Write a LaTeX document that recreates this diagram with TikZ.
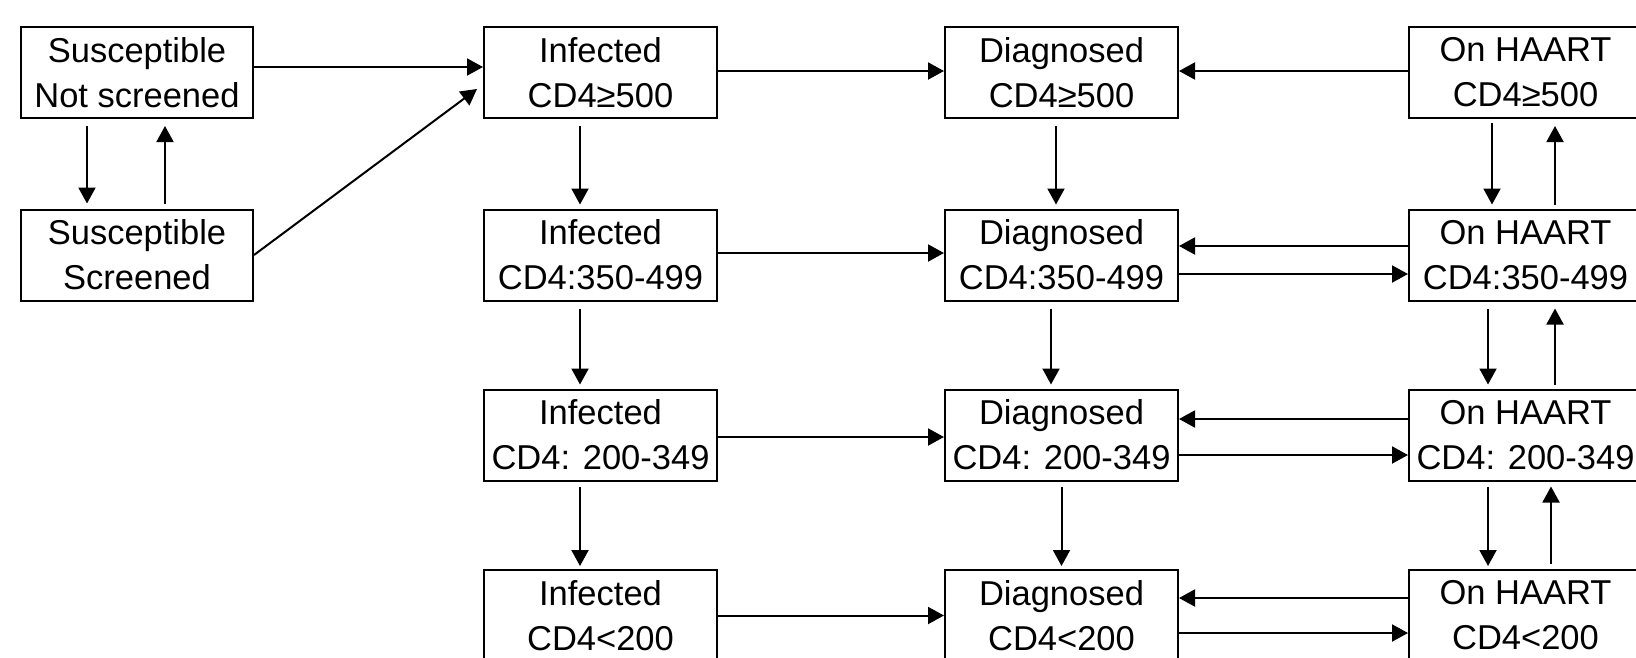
\documentclass[tikz,border=0pt]{standalone}
\usepackage{fontspec}
\setmainfont{Liberation Sans}
\usetikzlibrary{arrows.meta}
\begin{document}
\begin{tikzpicture}[x=1pt,y=-1pt,
  box/.style={draw, line width=2pt, minimum width=233pt, minimum height=91pt, inner sep=0pt, align=center, font=\fontsize{34.5}{45}\selectfont},
  arr/.style={line width=2pt, -{Triangle[length=16pt,width=17pt]}}]
\clip (0,0) rectangle (1636,657);
% column 1
\node[box, minimum width=232pt] (sns) at (137,72.5) {Susceptible\\Not screened};
\node[box, minimum width=232pt] (ss) at (137,255) {Susceptible\\Screened};
% column 2
\node[box] (i1) at (600.5,72.5) {Infected\\CD4≥500};
\node[box] (i2) at (600.5,255) {Infected\\CD4:350-499};
\node[box] (i3) at (600.5,435) {Infected\\CD4: 200-349};
\node[box] (i4) at (600.5,615.5) {Infected\\CD4<200};
% column 3
\node[box] (d1) at (1061.5,72.5) {Diagnosed\\CD4≥500};
\node[box] (d2) at (1061.5,255) {Diagnosed\\CD4:350-499};
\node[box] (d3) at (1061.5,435) {Diagnosed\\CD4: 200-349};
\node[box] (d4) at (1061.5,615.5) {Diagnosed\\CD4<200};
% column 4
\node[box] (h1) at (1525.5,72.5) {On HAART\\CD4≥500};
\node[box] (h2) at (1525.5,255) {On HAART\\CD4:350-499};
\node[box] (h3) at (1525.5,435) {On HAART\\CD4: 200-349};
\node[box] (h4) at (1525.5,615.5) {On HAART\\CD4<200};
% susceptible arrows
\draw[arr] ([yshift=5.5pt]sns.east) -- ([yshift=5.5pt]i1.west);
\draw[arr] (ss.east) -- ([xshift=-6pt,yshift=-16.5pt]i1.west);
\draw[arr] ([xshift=-50pt,yshift=-7pt]sns.south) -- ([xshift=-50pt,yshift=5pt]ss.north);
\draw[arr] ([xshift=28pt,yshift=5pt]ss.north) -- ([xshift=28pt,yshift=-7pt]sns.south);
% infected column
\draw[arr] ([xshift=-20.5pt,yshift=-7pt]i1.south) -- ([xshift=-20.5pt,yshift=4pt]i2.north);
\draw[arr] ([xshift=-20.5pt,yshift=-7pt]i2.south) -- ([xshift=-20.5pt,yshift=4pt]i3.north);
\draw[arr] ([xshift=-20.5pt,yshift=-5pt]i3.south) -- ([xshift=-20.5pt,yshift=3pt]i4.north);
\draw[arr] ([yshift=1.5pt]i1.east) -- ([yshift=1.5pt]d1.west);
\draw[arr] ([yshift=2pt]i2.east) -- ([yshift=2pt]d2.west);
\draw[arr] ([yshift=-2pt]i3.east) -- ([yshift=-2pt]d3.west);
\draw[arr] (i4.east) -- (d4.west);
% diagnosed column
\draw[arr] ([xshift=-5.5pt,yshift=-7pt]d1.south) -- ([xshift=-5.5pt,yshift=4pt]d2.north);
\draw[arr] ([xshift=-10.5pt,yshift=-7pt]d2.south) -- ([xshift=-10.5pt,yshift=4pt]d3.north);
\draw[arr] ([yshift=-5pt]d3.south) -- ([yshift=3pt]d4.north);
% HAART <-> diagnosed
\draw[arr] ([yshift=1.5pt]h1.west) -- ([yshift=1.5pt]d1.east);
\draw[arr] ([yshift=9pt]h2.west) -- ([yshift=9pt]d2.east);
\draw[arr] ([yshift=-19pt]d2.east) -- ([yshift=-19pt]h2.west);
\draw[arr] ([yshift=16pt]h3.west) -- ([yshift=16pt]d3.east);
\draw[arr] ([yshift=-20pt]d3.east) -- ([yshift=-20pt]h3.west);
\draw[arr] ([yshift=17.5pt]h4.west) -- ([yshift=17.5pt]d4.east);
\draw[arr] ([yshift=-17.5pt]d4.east) -- ([yshift=-17.5pt]h4.west);
% HAART column
\draw[arr] ([xshift=-33.5pt,yshift=-4pt]h1.south) -- ([xshift=-33.5pt,yshift=4pt]h2.north);
\draw[arr] ([xshift=29.5pt,yshift=4pt]h2.north) -- ([xshift=29.5pt,yshift=-7pt]h1.south);
\draw[arr] ([xshift=-37.5pt,yshift=-7pt]h2.south) -- ([xshift=-37.5pt,yshift=4pt]h3.north);
\draw[arr] ([xshift=29.5pt,yshift=4pt]h3.north) -- ([xshift=29.5pt,yshift=-7pt]h2.south);
\draw[arr] ([xshift=-37.5pt,yshift=-5pt]h3.south) -- ([xshift=-37.5pt,yshift=3pt]h4.north);
\draw[arr] ([xshift=25.5pt,yshift=5pt]h4.north) -- ([xshift=25.5pt,yshift=-5pt]h3.south);
\end{tikzpicture}
\end{document}
